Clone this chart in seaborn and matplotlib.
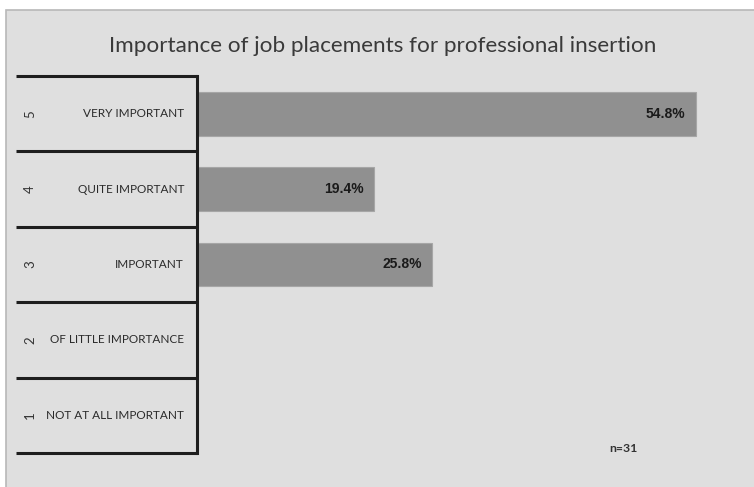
import matplotlib
matplotlib.use("Agg")
import matplotlib.pyplot as plt
from matplotlib.patches import Rectangle
import seaborn as sns
import pandas as pd

# Survey answers, top to bottom
scores = ["5", "4", "3", "2", "1"]
labels = ["VERY IMPORTANT", "QUITE IMPORTANT", "IMPORTANT",
          "OF LITTLE IMPORTANCE", "NOT AT ALL IMPORTANT"]
shares = [54.8, 19.4, 25.8, 0.0, 0.0]
title = "Importance of job placements for professional insertion"
note = "n=31"

sns.set_theme(style="white")
plt.rcParams["font.family"] = ["Lato", "DejaVu Sans"]

W, H = 754, 487
fig = plt.figure(figsize=(W / 100, H / 100), dpi=100, facecolor="white")

# grey chart panel behind everything
panel = Rectangle((6 / W, -0.01), 1, 1.01 - 10 / H, transform=fig.transFigure,
                  facecolor="#dfdfdf", edgecolor="#b8b8b8", lw=1.2, zorder=-10)
fig.patches.append(panel)

left, right = 197, 743
top, bottom = 76, 453
ax = fig.add_axes([left / W, 1 - bottom / H, (right - left) / W, (bottom - top) / H])
ax.set_facecolor("none")
ax.set_zorder(5)

df = pd.DataFrame({"label": labels, "share": shares})
sns.barplot(data=df, x="share", y="label", orient="h", color="#909090",
            saturation=1, width=0.58, ax=ax, order=labels,
            edgecolor="#a6a6a6", linewidth=0.8)

ax.set_xlim(0, 60)
ax.set_ylim(4.5, -0.5)
ax.set_xticks([])
ax.set_yticks([])
ax.set_xlabel("")
ax.set_ylabel("")
for s in ["top", "right", "bottom"]:
    ax.spines[s].set_visible(False)
ax.spines["left"].set_linewidth(2.2)
ax.spines["left"].set_color("#1e1e1e")

# value labels inside the bar ends
for i, v in enumerate(shares):
    if v > 0:
        ax.annotate(f"{v:.1f}%", xy=(v, i), xytext=(-10, 0), textcoords="offset pixels",
                    ha="right", va="center", fontsize=10, fontweight="bold",
                    family=["Liberation Sans", "DejaVu Sans"], color="#1a1a1a")

# category table on the left
tr = ax.get_yaxis_transform()
px = 1 / (right - left)
x_line = -(left - 16) * px
for b in [-0.5 + k for k in range(6)]:
    ax.plot([x_line, 0], [b, b], transform=tr, color="#1e1e1e", lw=2.2,
            clip_on=False, solid_capstyle="butt")
for i, (sc, lb) in enumerate(zip(scores, labels)):
    ax.text(-(left - 30) * px, i, sc, transform=tr, rotation=90, ha="center",
            va="center", fontsize=9.5, color="#333333")
    ax.text(-(left - 184) * px, i, lb, transform=tr, ha="right", va="center",
            fontsize=8.5, color="#2a2a2a")

fig.text(383 / W, 1 - 46 / H, title, ha="center", va="center", fontsize=16.2,
         color="#3a3a3a")
fig.text(623 / W, 1 - 448 / H, note, ha="center", va="center", fontsize=8.8,
         fontweight="bold", color="#333333")

fig.savefig("out.png", dpi=100, facecolor="white")
